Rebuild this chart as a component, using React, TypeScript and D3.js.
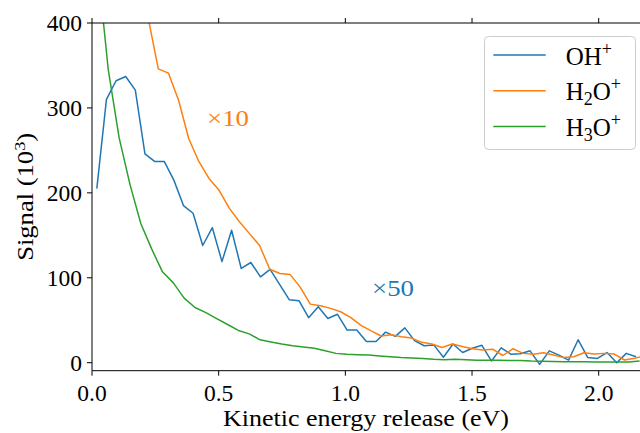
import * as d3 from 'd3';
import React from 'react';

// OH+ (x50), bin centres at 0.019 + 0.038 i
const ohStart = 0.019;
const ohStep = 0.038;
const ohValues = [
  205, 310, 332, 337, 321, 246, 237, 237, 215, 185, 176, 138, 159, 119, 156, 111, 118, 101, 110, 92,
  74, 73, 53, 66, 52, 57, 38.5, 38.5, 25, 25, 36, 31, 41, 26, 20, 21, 6.5, 22, 12, 17,
  20.5, 2, 17.5, 10, 10.5, 14, -2, 14, 9, 3, 27, 6, 5, 12, 0, 11, 7,
];

// H2O+ (x10)
const h2oStart = 0.0217;
const h2oStep = 0.04;
const h2oValues = [
  900, 760, 640, 540, 470, 406, 346, 341, 309, 264, 237, 217, 203, 182, 166, 152, 138, 110, 105, 104,
  89, 69, 67, 64, 60, 53, 44, 37.5, 31.5, 33, 30.5, 29, 24, 22, 18, 22, 19, 16.5, 15, 16,
  8.5, 16.5, 11, 10, 11.8, 9, 6, 7, 11.8, 10.2, 11, 10.2, 3.2, 5.2, 8,
];

// H3O+
const h3oStart = 0.0214;
const h3oStep = 0.0428;
const h3oValues = [
  470, 345, 265, 210, 164, 134, 107, 94, 76, 65, 59, 52, 45, 38, 34, 27, 24.5, 22, 20, 18.5,
  17, 14, 11, 10, 9.5, 9, 8, 7, 6, 5.5, 5, 4, 3.5, 4, 3.5, 3, 3, 3, 2.5, 2.5,
  2, 1.8, 1.5, 1.2, 1, 1, 0.8, 0.8, 0.8, 0.8, 2,
];

const xTicks = [0, 0.5, 1.0, 1.5, 2.0];
const yTicks = [0, 100, 200, 300, 400];

const series = [
  { name: 'OH', sub: '', start: ohStart, step: ohStep, values: ohValues, color: '#1f77b4' },
  { name: 'H', sub: '2', start: h2oStart, step: h2oStep, values: h2oValues, color: '#ff7f0e' },
  { name: 'H', sub: '3', start: h3oStart, step: h3oStep, values: h3oValues, color: '#2ca02c' },
];

const W = 640;
const H = 433;
const margin = { left: 92, right: 0, top: 23, bottom: 62.3 };
const font = '"Liberation Serif", "DejaVu Serif", serif';

export default function App() {
  const x = d3.scaleLinear().domain([0, 2.163]).range([margin.left, W - margin.right]);
  const y = d3.scaleLinear().domain([-9.4, 400]).range([H - margin.bottom, margin.top]);

  const line = d3
    .line<[number, number]>()
    .x((d) => x(d[0]))
    .y((d) => y(d[1]));

  const x0 = x.range()[0];
  const x1 = x.range()[1];
  const y0 = y.range()[0];
  const y1 = y.range()[1];

  return (
    <svg width={W} height={H} style={{ position: 'absolute', left: 0, top: 0 }} fontFamily={font}>
      <defs>
        <clipPath id="plot">
          <rect x={x0} y={y1} width={x1 - x0} height={y0 - y1} />
        </clipPath>
      </defs>
      <rect width={W} height={H} fill="#fff" />

      <g clipPath="url(#plot)">
        {series.map((s) => (
          <path
            key={s.name + s.sub}
            d={line(s.values.map((v, i) => [s.start + s.step * i, v]))!}
            fill="none"
            stroke={s.color}
            strokeWidth={1.5}
            strokeLinejoin="round"
          />
        ))}
      </g>

      {/* spines */}
      <line x1={x0} x2={x0} y1={y1} y2={y0} stroke="#000" strokeWidth={1} />
      <line x1={x0} x2={x1} y1={y0} y2={y0} stroke="#000" strokeWidth={1} />
      <line x1={x0} x2={x1} y1={y1} y2={y1} stroke="#000" strokeWidth={1} />

      {/* x ticks */}
      {xTicks.map((t) => (
        <g key={t}>
          <line x1={x(t)} x2={x(t)} y1={y0} y2={y0 + 5} stroke="#000" />
          <line x1={x(t)} x2={x(t)} y1={y1} y2={y1 - 5} stroke="#000" />
          <text x={x(t)} y={401} textAnchor="middle" fontSize={23.5}>
            {t.toFixed(1)}
          </text>
        </g>
      ))}

      {/* y ticks */}
      {yTicks.map((t) => (
        <g key={t}>
          <line x1={x0 - 5} x2={x0} y1={y(t)} y2={y(t)} stroke="#000" />
          <text x={x0 - 10} y={y(t) + 7.8} textAnchor="end" fontSize={23.5}>
            {t}
          </text>
        </g>
      ))}

      {/* axis labels */}
      <text
        x={(x0 + x1) / 2}
        y={426}
        textAnchor="middle"
        fontSize={22.5}
        textLength={286}
        lengthAdjust="spacingAndGlyphs"
      >
        Kinetic energy release (eV)
      </text>
      <text
        transform={`translate(33,${(y0 + y1) / 2}) rotate(-90)`}
        textAnchor="middle"
        fontSize={22.5}
        textLength={128}
        lengthAdjust="spacingAndGlyphs"
      >
        Signal (10
        <tspan fontSize={15.5} dy={-8.5}>
          3
        </tspan>
        <tspan dy={8.5}>)</tspan>
      </text>

      {/* scale annotations */}
      <text x={207} y={126} fontSize={23} fill="#ff7f0e" textLength={42} lengthAdjust="spacingAndGlyphs">
        ×10
      </text>
      <text x={372} y={296} fontSize={23} fill="#1f77b4" textLength={42} lengthAdjust="spacingAndGlyphs">
        ×50
      </text>

      {/* legend */}
      <rect
        x={484.5}
        y={36.5}
        width={151}
        height={113}
        rx={4}
        fill="#fff"
        fillOpacity={0.8}
        stroke="#cccccc"
      />
      {series.map((s, i) => {
        const ly = 55 + i * 35.8;
        return (
          <g key={'l' + i}>
            <line x1={493.3} x2={545.7} y1={ly} y2={ly} stroke={s.color} strokeWidth={1.5} />
            <text x={565.7} y={ly + 9.5} fontSize={25}>
              {s.name}
              {s.sub && (
                <tspan fontSize={18} dy={5}>
                  {s.sub}
                </tspan>
              )}
              {s.sub ? <tspan dy={-5}>O</tspan> : null}
              <tspan fontSize={18} dy={-10}>
                +
              </tspan>
            </text>
          </g>
        );
      })}
    </svg>
  );
}
